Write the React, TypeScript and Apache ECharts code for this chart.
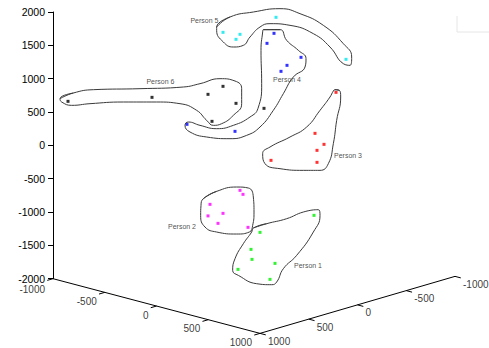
import React, { useEffect, useRef } from "react";
import * as echarts from "echarts";

// Projected plot frame: vertical values follow the visible axis (-2000..2000),
// horizontal values use the same unit size along the hidden projected axis.
const person1 = [[3915, -1050], [3105, -1305], [2970, -1560], [2985, -1710], [3330, -1770], [2775, -1860], [3255, -2010]];
const person2 = [[2805, -675], [2850, -735], [2355, -885], [2550, -1020], [2325, -1058], [2475, -1170], [2925, -1230]];
const person3 = [[4245, 795], [3930, 180], [4065, 15], [3960, -75], [3960, -255], [3270, -225]];
const person4 = [[3315, 1680], [3210, 1530], [3720, 1320], [3510, 1200], [3420, 1110], [2730, 210], [2010, 315]];
const person5 = [[3345, 1920], [2550, 1695], [2805, 1665], [2745, 1590], [4395, 1290]];
const person6 = [[225, 660], [1485, 720], [2325, 765], [2550, 885], [2745, 630], [2385, 360], [3165, 555]];

const outline1 = [[3005, -1240], [3205, -1175], [3505, -1100], [3755, -1000], [3980, -965], [4005, -1050], [3905, -1300], [3655, -1650], [3455, -1850], [3355, -2050], [3280, -2090], [3055, -2075], [2780, -1950], [2695, -1875], [2730, -1700], [2855, -1475], [2980, -1300]];
const outline2 = [[2255, -800], [2455, -690], [2755, -625], [2930, -640], [3005, -775], [3015, -1000], [2995, -1200], [2945, -1300], [2755, -1330], [2455, -1300], [2280, -1225], [2215, -1050], [2220, -900]];
const outline3 = [[4230, 835], [4295, 825], [4315, 725], [4255, 375], [4205, 25], [4130, -275], [4005, -375], [3755, -375], [3405, -350], [3180, -275], [3145, -125], [3255, -25], [3555, 125], [3805, 275], [4005, 525], [4155, 725], [4205, 815]];
const outline4 = [[3155, 1735], [3405, 1735], [3505, 1575], [3680, 1425], [3795, 1300], [3780, 1175], [3605, 1025], [3455, 775], [3305, 525], [3105, 275], [2905, 150], [2655, 100], [2305, 125], [2055, 200], [1980, 300], [2030, 350], [2205, 300], [2455, 250], [2705, 300], [2955, 425], [3075, 555], [3130, 925], [3120, 1425], [3145, 1700]];
const outline5 = [[2455, 1775], [2655, 1925], [3005, 2000], [3405, 2050], [3705, 1975], [4055, 1800], [4355, 1525], [4480, 1325], [4455, 1200], [4355, 1225], [4155, 1475], [3905, 1675], [3555, 1800], [3255, 1825], [3105, 1775], [2955, 1625], [2855, 1500], [2705, 1475], [2555, 1550], [2455, 1725]];
const outline6 = [[105, 700], [305, 785], [605, 835], [1305, 850], [1955, 875], [2205, 925], [2505, 1000], [2730, 965], [2830, 850], [2830, 625], [2705, 450], [2530, 325], [2405, 300], [2305, 375], [2155, 525], [1905, 625], [1555, 650], [1055, 650], [555, 625], [280, 600], [130, 650]];

const personNames = ["Person 1", "Person 2", "Person 3", "Person 4", "Person 5", "Person 6"];
const personLabelPos = [[3825, -1808], [1935, -1215], [4425, -158], [3510, 982], [2272, 1875], [1612, 960]];

const floorLeftTicks = [-1000, -500, 0, 500, 1000];
const floorRightTicks = [1000, 500, 0, -500, -1000];

// layout of the projected floor axes (frame units)
const FOOT = [0, -2000];
const CORNER = [3105, -2820];
const END = [6030, -1965];
const UNIT = 15; // frame units per pixel

const pointColors = ["#00ee00", "#ff00ff", "#ff0000", "#0000ff", "#00e5ee", "#000000"];

function leftPoint(a: number) {
  const t = (a + 1000) / 2000;
  return [FOOT[0] + t * (CORNER[0] - FOOT[0]), FOOT[1] + t * (CORNER[1] - FOOT[1])];
}
function rightPoint(b: number) {
  const t = (1000 - b) / 2000;
  return [CORNER[0] + t * (END[0] - CORNER[0]), CORNER[1] + t * (END[1] - CORNER[1])];
}
function unitVec(a: number[], b: number[], len: number) {
  const dx = b[0] - a[0];
  const dy = b[1] - a[1];
  const n = Math.sqrt(dx * dx + dy * dy);
  return [(dx / n) * len, (dy / n) * len];
}

function closed(arr: number[][]) {
  return [...arr, arr[0], arr[1]];
}

const FONT = "'Liberation Sans', Arial, sans-serif";

export default function App() {
  const ref = useRef<HTMLDivElement>(null);
  useEffect(() => {
    if (!ref.current) return;
    const chart = echarts.init(ref.current, undefined, { renderer: "svg" });

    const tickLen = 6 * UNIT;
    const leftDir = unitVec(END, CORNER, tickLen);
    const rightDir = unitVec(FOOT, CORNER, tickLen);

    const tickSegments: any[] = [];
    const tickLabelsLeft: any[] = [];
    const tickLabelsRight: any[] = [];
    floorLeftTicks.forEach((a) => {
      const p = leftPoint(a);
      tickSegments.push({ coords: [p, [p[0] + leftDir[0], p[1] + leftDir[1]]] });
      const down = a === -1000 ? 11 : 9;
      tickLabelsLeft.push([p[0] - 8 * UNIT, p[1] - down * UNIT, String(a)]);
    });
    floorRightTicks.forEach((b) => {
      const p = rightPoint(b);
      tickSegments.push({ coords: [p, [p[0] + rightDir[0], p[1] + rightDir[1]]] });
      tickLabelsRight.push([p[0] + 8 * UNIT, p[1] - 8 * UNIT, String(b)]);
    });

    const outlines = [outline1, outline2, outline3, outline4, outline5, outline6];
    const persons = [person1, person2, person3, person4, person5, person6];

    const series: any[] = [];
    outlines.forEach((o) => {
      series.push({
        type: "line",
        data: closed(o),
        smooth: 0.5,
        symbol: "none",
        silent: true,
        clip: false,
        lineStyle: { color: "#3a3a3a", width: 1 },
      });
    });
    persons.forEach((p, i) => {
      series.push({
        type: "scatter",
        data: p,
        symbol: "rect",
        symbolSize: 3,
        clip: false,
        itemStyle: { color: pointColors[i] },
      });
    });
    series.push({
      type: "scatter",
      data: personLabelPos.map((p, i) => ({ value: p, name: personNames[i] })),
      symbolSize: 0,
      clip: false,
      label: {
        show: true,
        position: "inside",
        formatter: (d: any) => d.name,
        color: "#222",
        fontSize: 7,
        fontFamily: FONT,
      },
    });
    series.push({
      type: "line",
      data: [FOOT, CORNER, END],
      symbol: "none",
      clip: false,
      silent: true,
      lineStyle: { color: "#000", width: 1 },
    });
    series.push({
      type: "lines",
      coordinateSystem: "cartesian2d",
      data: tickSegments,
      clip: false,
      silent: true,
      lineStyle: { color: "#000", width: 1, opacity: 1 },
    });
    series.push({
      type: "scatter",
      data: tickLabelsLeft,
      symbolSize: 0,
      clip: false,
      label: {
        show: true,
        position: "inside",
        align: "right",
        verticalAlign: "middle",
        formatter: (d: any) => d.value[2],
        color: "#000",
        fontSize: 10,
        fontFamily: FONT,
      },
    });
    series.push({
      type: "scatter",
      data: tickLabelsRight,
      symbolSize: 0,
      clip: false,
      label: {
        show: true,
        position: "inside",
        align: "left",
        verticalAlign: "middle",
        formatter: (d: any) => d.value[2],
        color: "#000",
        fontSize: 10,
        fontFamily: FONT,
      },
    });

    chart.setOption({
      animation: false,
      backgroundColor: "#ffffff",
      grid: { left: 53, right: 0, top: 12, bottom: 69.3, containLabel: false },
      xAxis: { type: "value", min: 0, max: 436 * UNIT, show: false },
      yAxis: {
        type: "value",
        min: -2000,
        max: 2000,
        interval: 500,
        axisLine: { show: true, lineStyle: { color: "#000", width: 1 } },
        axisTick: { show: true, length: 5, lineStyle: { color: "#000" } },
        axisLabel: {
          color: "#000",
          fontSize: 10.5,
          fontFamily: FONT,
          margin: 8,
          formatter: (v: number) => String(v),
        },
        splitLine: { show: false },
      },
      graphic: [
        {
          type: "polyline",
          shape: { points: [[457, 16], [457, 32], [489, 32]] },
          style: { stroke: "#e6e6e6", lineWidth: 1, fill: null },
          silent: true,
        },
      ],
      series,
    });
    return () => chart.dispose();
  }, []);
  return <div ref={ref} style={{ width: 489, height: 348, position: "absolute", left: 0, top: 0 }} />;
}
